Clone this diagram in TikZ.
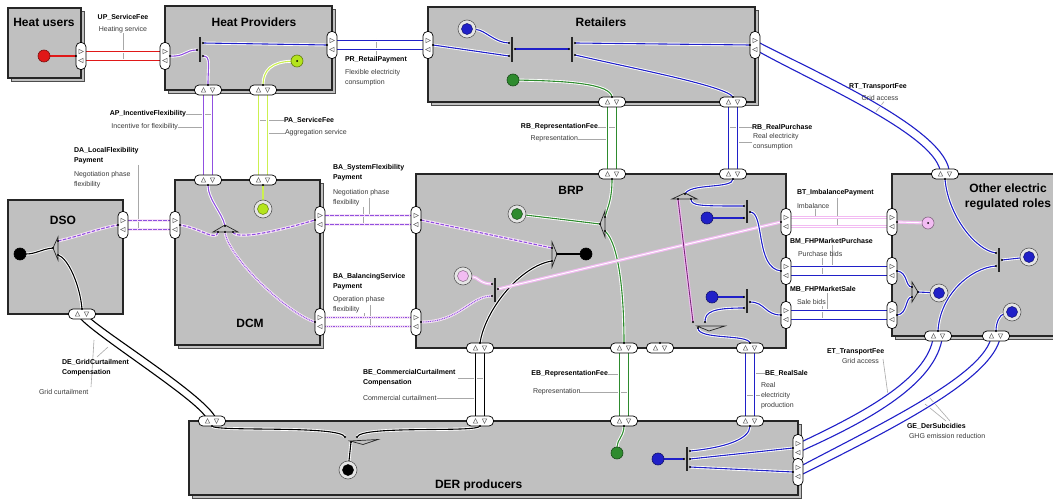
\documentclass[tikz,border=0pt]{standalone}
\usepackage{fontspec}
\setmainfont{Liberation Sans}
\usetikzlibrary{calc}
\pgfdeclarelayer{boxes}
\pgfdeclarelayer{flows}
\pgfsetlayers{boxes,flows,main}

\definecolor{boxgray}{HTML}{C0C0C0}
\definecolor{vred}{HTML}{E01818}
\definecolor{vblue}{HTML}{2020C8}
\definecolor{vpurple}{HTML}{9050E0}
\definecolor{vyellow}{HTML}{CCF050}
\definecolor{vyellowd}{HTML}{B4E41C}
\definecolor{vgreen}{HTML}{2E8B2E}
\definecolor{vpink}{HTML}{F2BCF2}
\definecolor{vplum}{HTML}{7A2A7A}
\definecolor{vhalo}{HTML}{F6E4F6}
\definecolor{leadgray}{HTML}{A8A8A8}
\definecolor{txtgray}{HTML}{3A3A3A}

\tikzset{
  every node/.style={inner sep=0pt, outer sep=0pt},
  actor/.style={draw=black!85, fill=boxgray, line width=1.2pt},
  stackbox/.style={draw=black!70, fill=boxgray, line width=0.8pt},
  vpill/.style={draw=black, fill=white, rounded corners=4.5pt, minimum width=10pt, minimum height=27pt, line width=0.7pt},
  hpill/.style={draw=black, fill=white, rounded corners=4.5pt, minimum width=27pt, minimum height=10pt, line width=0.7pt},
  tri/.style={draw=black!60, fill=white, line width=0.5pt},
  flow/.style={draw=#1, line width=1.1pt, preaction={draw=white, line width=2.9pt, solid}},
  dflow/.style={draw=#1, line width=1.1pt, dash pattern=on 3.5pt off 1.5pt, preaction={draw=vhalo, line width=2.9pt, solid}},
  oflow/.style={draw=#1, line width=1.1pt, dash pattern=on 0.9pt off 0.9pt, preaction={draw=vhalo, line width=2.9pt, solid}},
  pflow/.style={draw=vpink, line width=1.2pt, double=white, double distance=0.9pt},
  plumflow/.style={draw=vplum, line width=0.9pt, preaction={draw=vpink, line width=3pt}},
  title/.style={font=\fontsize{12}{15}\selectfont\bfseries},
  xname/.style={font=\fontsize{7}{10}\selectfont\bfseries, align=left},
  xdesc/.style={font=\fontsize{7}{10}\selectfont, text=txtgray, align=left},
  leader/.style={draw=leadgray, line width=0.6pt},
  andbar/.style={draw=black!85, line width=1.2pt},
  orshape/.style={draw=black!85, fill=boxgray, line width=0.7pt},
}

% value port on a left or right side: two transfers, upper (-a) and lower (-b)
\newcommand\VPort[3]{%
  \node[vpill] (#1) at (#2,#3) {};
  \path[tri] ({#2-2.2},{#3-6.7}) -- ({#2+2.4},{#3-4.5}) -- ({#2-2.2},{#3-2.3}) -- cycle;
  \path[tri] ({#2+2.2},{#3+2.3}) -- ({#2-2.4},{#3+4.5}) -- ({#2+2.2},{#3+6.7}) -- cycle;
  \coordinate (#1-a) at (#2,{#3-4.5});
  \coordinate (#1-b) at (#2,{#3+4.5});
}
% value port on a top or bottom side: two transfers, left (-a) and right (-b)
\newcommand\HPort[3]{%
  \node[hpill] (#1) at (#2,#3) {};
  \path[tri] ({#2-6.7},{#3+2.2}) -- ({#2-4.5},{#3-2.4}) -- ({#2-2.3},{#3+2.2}) -- cycle;
  \path[tri] ({#2+2.3},{#3-2.2}) -- ({#2+4.5},{#3+2.4}) -- ({#2+6.7},{#3-2.2}) -- cycle;
  \coordinate (#1-a) at ({#2-4.5},#3);
  \coordinate (#1-b) at ({#2+4.5},#3);
}
\newcommand\StartStim[4]{%
  \node[circle, minimum size=12pt, fill=#4, draw=#4!55!black, line width=0.6pt] (#1) at (#2,#3) {};}
\newcommand\EndStim[4]{%
  \node[circle, minimum size=18pt, fill=black!10, draw=black!65, line width=0.6pt] (#1) at (#2,#3) {};
  \node[circle, minimum size=11pt, fill=#4, draw=#4!55!black, line width=0.5pt] (#1-core) at (#2,#3) {};}

\begin{document}
\begin{tikzpicture}[x=1pt,y=-1pt]
\useasboundingbox (0,0) rectangle (1053,500);

% ---------------- actors ----------------
\begin{pgfonlayer}{boxes}
  \fill[white] (0,0) rectangle (1053,500);
  \node[stackbox, anchor=north west, minimum width=73pt, minimum height=70pt] (huS) at (11.5,11.5) {};
  \node[actor, anchor=north west, minimum width=73pt, minimum height=70pt] (hu) at (8,8) {};
  \node[stackbox, anchor=north west, minimum width=167pt, minimum height=84pt] (hpS) at (168.5,9.5) {};
  \node[actor, anchor=north west, minimum width=167pt, minimum height=84pt] (hp) at (165,6) {};
  \node[stackbox, anchor=north west, minimum width=327pt, minimum height=95pt] (reS) at (431.5,10.5) {};
  \node[actor, anchor=north west, minimum width=327pt, minimum height=95pt] (re) at (428,7) {};
  \node[actor, anchor=north west, minimum width=115pt, minimum height=114pt] (dso) at (8,200) {};
  \node[stackbox, anchor=north west, minimum width=145pt, minimum height=165pt] (dcmS) at (178.5,183.5) {};
  \node[actor, anchor=north west, minimum width=145pt, minimum height=165pt] (dcm) at (175,180) {};
  \node[actor, anchor=north west, minimum width=370pt, minimum height=174pt] (brp) at (416,174) {};
  \node[stackbox, anchor=north west, minimum width=175pt, minimum height=162pt] (otS) at (895.5,177.5) {};
  \node[actor, anchor=north west, minimum width=175pt, minimum height=162pt] (ot) at (892,174) {};
  \node[stackbox, anchor=north west, minimum width=609pt, minimum height=74pt] (derS) at (192.5,424.5) {};
  \node[actor, anchor=north west, minimum width=609pt, minimum height=74pt] (der) at (189,421) {};
\end{pgfonlayer}

\node[title] (huT) at (44,22) {Heat users};
\node[title] (hpT) at (254,22) {Heat Providers};
\node[title] (reT) at (601,22) {Retailers};
\node[title] (dsoT) at (63,220) {DSO};
\node[title] (dcmT) at (250,323) {DCM};
\node[title] (brpT) at (571,190) {BRP};
\node[title, anchor=north, align=center] (otT) at (1008,183.5) {Other electric\\regulated roles};
\node[title, anchor=west] (derT) at (435,485) {DER producers};

% ---------------- value ports ----------------
\VPort{HUr}{81}{56}
\VPort{HPl}{165}{56}
\VPort{HPr}{332}{45}
\VPort{REl}{428}{45}
\VPort{REr}{755}{45}
\VPort{DSOr}{123}{225}
\VPort{DCMl}{175}{225}
\VPort{DCMr1}{320}{220}
\VPort{DCMr2}{320}{322}
\VPort{BRPl1}{416}{220}
\VPort{BRPl2}{416}{322}
\VPort{BRPr1}{786}{222}
\VPort{BRPr2}{786}{271}
\VPort{BRPr3}{786}{315}
\VPort{OTl1}{892}{222}
\VPort{OTl2}{892}{271}
\VPort{OTl3}{892}{315}
\VPort{DERr1}{798}{448}
\VPort{DERr2}{798}{472}
\HPort{HPb1}{208}{90}
\HPort{HPb2}{263}{90}
\HPort{REb1}{612}{102}
\HPort{REb2}{733}{102}
\HPort{BRPt1}{612}{174}
\HPort{BRPt2}{733}{174}
\HPort{BRPb1}{480}{348}
\HPort{BRPb2}{624}{348}
\HPort{BRPb3}{660}{348}
\HPort{BRPb4}{750}{348}
\HPort{DCMt1}{208}{180}
\HPort{DCMt2}{263}{180}
\HPort{OTt}{945}{174}
\HPort{OTb1}{938}{336}
\HPort{OTb2}{996}{336}
\HPort{DSOb}{82}{314}
\HPort{DERt1}{212}{421}
\HPort{DERt2}{480}{421}
\HPort{DERt3}{624}{421}
\HPort{DERt4}{750}{421}

% ---------------- stimuli ----------------
\StartStim{hudot}{44}{56}{vred}
\StartStim{hpy}{297}{61}{vyellowd}
\EndStim{rebull}{467}{29}{vblue}
\StartStim{regreen}{513}{80}{vgreen}
\StartStim{dsodot}{20}{254}{black}
\EndStim{dcmbull}{263}{209}{vyellowd}
\EndStim{brpbull}{517}{214}{vgreen}
\StartStim{brpblack}{586}{254}{black}
\EndStim{brppink}{463}{276}{vpink}
\StartStim{brpblue1}{707}{218}{vblue}
\StartStim{brpblue2}{712}{297}{vblue}
\StartStim{otpink}{928}{223}{vpink}
\EndStim{otbull1}{939}{293}{vblue}
\EndStim{otbull2}{1029}{257}{vblue}
\EndStim{otbull3}{1012}{312}{vblue}
\EndStim{derbull}{348}{470}{black}
\StartStim{dergreen}{617}{453}{vgreen}
\StartStim{derblue}{658}{459}{vblue}
\fill[black] (hpy) circle (1pt);
\fill[black] (otpink) circle (1pt);

% ---------------- AND bars and OR elements ----------------
\draw[andbar] (200,37) -- (200,62);
\coordinate (hb-in) at (197,50); \coordinate (hb-o1) at (203,43); \coordinate (hb-o2) at (203,56);
\draw[andbar] (512,37) -- (512,62);
\coordinate (r1-i1) at (509,43); \coordinate (r1-i2) at (509,56); \coordinate (r1-o) at (515,49);
\draw[andbar] (572,37) -- (572,62);
\coordinate (r2-i) at (569,49); \coordinate (r2-o1) at (575,43); \coordinate (r2-o2) at (575,55);
\draw[orshape] (53,248) -- (58,237) -- (58,260) -- cycle;
\coordinate (dso-i) at (53,248); \coordinate (dso-o1) at (58,241); \coordinate (dso-o2) at (58,255);
\draw[orshape] (225,225) -- (238,232) -- (213,232) -- cycle;
\coordinate (dcm-i) at (225,226); \coordinate (dcm-o1) at (218,232); \coordinate (dcm-o2) at (225,232); \coordinate (dcm-o3) at (233,232);
\draw[orshape] (600,224) -- (605,211) -- (605,237) -- cycle;
\coordinate (or1-i) at (600,224); \coordinate (or1-o1) at (605,217); \coordinate (or1-o2) at (605,231);
\draw[orshape] (557,254) -- (552,242) -- (552,267) -- cycle;
\coordinate (or2-i1) at (552,248); \coordinate (or2-i2) at (552,261); \coordinate (or2-o) at (557,254);
\draw[andbar] (495,278) -- (495,302);
\coordinate (b3-i1) at (492,284); \coordinate (b3-i2) at (492,296); \coordinate (b3-o) at (498,289);
\draw[orshape] (685,193) -- (697,199) -- (672,199) -- cycle;
\coordinate (or3-i) at (685,194); \coordinate (or3-o1) at (678,199); \coordinate (or3-o2) at (691,199);
\draw[andbar] (747,200) -- (747,223);
\coordinate (b1-i1) at (744,206); \coordinate (b1-i2) at (744,218); \coordinate (b1-o) at (750,212);
\draw[andbar] (747,289) -- (747,313);
\coordinate (b2-i1) at (744,297); \coordinate (b2-i2) at (744,308); \coordinate (b2-o) at (750,302);
\draw[orshape] (697,326) -- (725,326) -- (709,331) -- cycle;
\coordinate (or4-i1) at (693,322); \coordinate (or4-i2) at (705,322); \coordinate (or4-o) at (698,328);
\draw[orshape] (918,292) -- (912,282) -- (912,302) -- cycle;
\coordinate (or5-i1) at (912,287); \coordinate (or5-i2) at (912,297); \coordinate (or5-o) at (918,292);
\draw[andbar] (999,248) -- (999,272);
\coordinate (ob-i1) at (996,253); \coordinate (ob-i2) at (996,266); \coordinate (ob-o) at (1002,260);
\draw[orshape] (350,441) -- (378,439.5) -- (363,444.5) -- cycle;
\coordinate (der-i1) at (345,437); \coordinate (der-i2) at (357,437); \coordinate (der-o) at (351,442);
\draw[andbar] (687,447) -- (687,471);
\coordinate (db-i) at (684,459); \coordinate (db-o1) at (690,451); \coordinate (db-o2) at (690,459); \coordinate (db-o3) at (690,467);

% ---------------- exchange labels ----------------
\node[xname] (upN) at (123,17) {UP\_ServiceFee};
\node[xdesc] (upD) at (123,30) {Heating service};
\node[xname, anchor=west] (prN) at (345,60) {PR\_RetailPayment};
\node[xdesc, anchor=north west] (prD) at (345,69.5) {Flexible electricity\\consumption};
\node[xname] (rtN) at (878,87) {RT\_TransportFee};
\node[xdesc] (rtD) at (880,98) {Grid access};
\node[xname, anchor=east] (apN) at (186,114) {AP\_IncentiveFlexibility};
\node[xdesc, anchor=east] (apD) at (178,127) {Incentive for flexibility};
\node[xname, anchor=west] (paN) at (284,120) {PA\_ServiceFee};
\node[xdesc, anchor=west] (paD) at (285,133) {Aggregation service};
\node[xname, anchor=north west] (daN) at (74,147.5) {DA\_LocalFlexibility\\Payment};
\node[xdesc, anchor=north west] (daD) at (74,171.5) {Negotiation phase\\flexibility};
\node[xname, anchor=north west] (bsN) at (333,164.5) {BA\_SystemFlexibility\\Payment};
\node[xdesc, anchor=north west] (bsD) at (333,189.5) {Negotiation phase\\flexibility};
\node[xname, anchor=north west] (bbN) at (333,273.5) {BA\_BalancingService\\Payment};
\node[xdesc, anchor=north west] (bbD) at (333,296.5) {Operation phase\\flexibility};
\node[xname, anchor=east] (rrN) at (598,127) {RB\_RepresentationFee};
\node[xdesc, anchor=east] (rrD) at (578,139) {Representation};
\node[xname, anchor=west] (rpN) at (752,127) {RB\_RealPurchase};
\node[xdesc, anchor=north west] (rpD) at (753,133.5) {Real electricity\\consumption};
\node[xname, anchor=west] (btN) at (797,193) {BT\_ImbalancePayment};
\node[xdesc, anchor=west] (btD) at (797,206) {Imbalance};
\node[xname, anchor=west] (bmN) at (790,241) {BM\_FHPMarketPurchase};
\node[xdesc, anchor=west] (bmD) at (798,254) {Purchase bids};
\node[xname, anchor=west] (mbN) at (790,289) {MB\_FHPMarketSale};
\node[xdesc, anchor=west] (mbD) at (797,302) {Sale bids};
\node[xname, anchor=north west] (bcN) at (363,369.5) {BE\_CommercialCurtailment\\Compensation};
\node[xdesc, anchor=west] (bcD) at (363,398) {Commercial curtailment};
\node[xname, anchor=east] (ebN) at (608,374) {EB\_RepresentationFee};
\node[xdesc, anchor=west] (ebD) at (533,392) {Representation};
\node[xname, anchor=west] (bsaN) at (765,373) {BE\_RealSale};
\node[xdesc, anchor=north west] (bsaD) at (761,382.5) {Real\\electricity\\production};
\node[xname, anchor=north west] (deN) at (62,359.5) {DE\_GridCurtailment\\Compensation};
\node[xdesc, anchor=west] (deD) at (39,392) {Grid curtailment};
\node[xname, anchor=west] (etN) at (827,352) {ET\_TransportFee};
\node[xdesc, anchor=west] (etD) at (842,361) {Grid access};
\node[xname, anchor=west] (geN) at (907,426) {GE\_DerSubcidies};
\node[xdesc, anchor=west] (geD) at (909,436) {GHG emission reduction};

\begin{pgfonlayer}{flows}
  % leader lines from labels to their exchanges
  \draw[leader] (upD.south) -- (123,62) coordinate (upL);
  \draw[leader] (376,39) coordinate (prLa) -- (376,55) coordinate (prLb);
  \draw[leader] (rtD.south) ++(4,1) coordinate (rtLa) -- (875,113) coordinate (rtLb);
  \draw[leader] (apN.east) -- (212.5,114) coordinate (apL1);
  \draw[leader] (apD.east) -- (203.5,127) coordinate (apL2);
  \draw[leader] (paN.west) -- (258.5,120) coordinate (paL1);
  \draw[leader] (paD.west) -- (267.5,133) coordinate (paL2);
  \draw[leader] (138,165) coordinate (daLa) -- (138,229) coordinate (daLb);
  \draw[leader] (363,207) coordinate (bsLa) -- (363,224.5) coordinate (bsLb);
  \draw[leader] (369,198) coordinate (bsLc) -- (369,215.5) coordinate (bsLd);
  \draw[leader] (370,305) coordinate (bbLa) -- (370,326.5) coordinate (bbLb);
  \draw[leader] (364,313) coordinate (bbLc) -- (364,317.5) coordinate (bbLd);
  \draw[leader] (rrN.east) -- (616.5,127) coordinate (rrL1);
  \draw[leader] (rrD.east) -- (607.5,139) coordinate (rrL2);
  \draw[leader] (rpN.west) -- (728.5,127) coordinate (rpL1);
  \draw[leader] (752,142) coordinate (rpLa) -- (737.5,142) coordinate (rpL2);
  \draw[leader] (815,209) coordinate (btLa) -- (815,217.5) coordinate (btLb);
  \draw[leader] (837,198) coordinate (btLc) -- (837,226.5) coordinate (btLd);
  \draw[leader] (822,258) coordinate (bmLa) -- (822,275.5) coordinate (bmLb);
  \draw[leader] (832,245) coordinate (bmLc) -- (832,266.5) coordinate (bmLd);
  \draw[leader] (822,306) coordinate (mbLa) -- (822,319.5) coordinate (mbLb);
  \draw[leader] (827,293) coordinate (mbLc) -- (827,310.5) coordinate (mbLd);
  \draw[leader] (458,378) coordinate (bcLa) -- (484.5,378) coordinate (bcLb);
  \draw[leader] (bcD.east) -- (475.5,398) coordinate (bcL2);
  \draw[leader] (ebN.east) -- (619.5,374) coordinate (ebL1);
  \draw[leader] (ebD.east) -- (628.5,392) coordinate (ebL2);
  \draw[leader] (bsaN.west) -- (754.5,373) coordinate (bsaL1);
  \draw[leader] (760,395) coordinate (bsaLa) -- (745.5,395) coordinate (bsaL2);
  \draw[leader] (91,387) coordinate (deLa) -- (94,340) coordinate (deLb);
  \draw[leader] (97,357) coordinate (deLc) -- (108,347) coordinate (deLd);
  \draw[leader] (883,359) coordinate (etLa) -- (888,395) coordinate (etLb);
  \draw[leader] (925,404) coordinate (geLa) -- (946,421) coordinate (geLb);
  \draw[leader] (929,397) coordinate (geLc) -- (950,421) coordinate (geLd);

  % internal paths: Heat users and Heat Providers
  \draw[flow=vred] (hudot) -- (HUr.west);
  \draw[flow=vpurple] (HPl.east) .. controls (185,57) and (185,50) .. (hb-in);
  \draw[flow=vblue] (hb-o1) -- (HPr.west);
  \draw[flow=vpurple] (hb-o2) .. controls (211,56) and (208,65) .. (HPb1.north);
  \draw[flow=vyellow] (hpy) .. controls (272,62) and (263,70) .. (HPb2.north);
  % Retailers
  \draw[flow=vblue] (rebull) .. controls (485,30) and (495,43) .. (r1-i1);
  \draw[flow=vblue] (REl.east) -- (r1-i2);
  \draw[flow=vblue] (r1-o) -- (r2-i);
  \draw[flow=vblue] (r2-o1) -- (REr.west);
  \draw[flow=vblue] (r2-o2) .. controls (640,70) and (725,86) .. (REb2.north);
  \draw[flow=vgreen] (regreen) .. controls (570,81) and (610,84) .. (REb1.north);
  % DSO
  \draw[flow=black] (dsodot) .. controls (36,254) and (42,249) .. (dso-i);
  \draw[dflow=vpurple] (dso-o1) .. controls (80,236) and (100,228) .. (DSOr.west);
  \draw[flow=black] (dso-o2) .. controls (68,258) and (80,285) .. (DSOb.north);
  % DCM
  \draw[flow=vpurple] (DCMt1.south) .. controls (208,200) and (222,212) .. (dcm-i);
  \draw[dflow=vpurple] (dcm-o1) .. controls (216,242) and (200,228) .. (DCMl.east);
  \draw[dflow=vpurple] (dcm-o3) .. controls (236,240) and (275,232) .. (DCMr1.west);
  \draw[oflow=vpurple] (dcm-o2) .. controls (228,258) and (290,315) .. (DCMr2.west);
  \draw[flow=vyellow] (DCMt2.south) -- (dcmbull);
  % BRP
  \draw[flow=vgreen] (brpbull) -- (or1-i);
  \draw[flow=vgreen] (BRPt1.south) .. controls (612,200) and (608,206) .. (or1-o1);
  \draw[flow=vgreen] (or1-o2) .. controls (620,245) and (624,300) .. (BRPb2.north);
  \draw[dflow=vpurple] (BRPl1.east) -- (or2-i1);
  \draw[flow=black] (BRPb1.north) .. controls (485,310) and (520,266) .. (or2-i2);
  \draw[flow=black] (or2-o) -- (brpblack);
  \draw[pflow] (brppink) .. controls (478,277) and (480,284) .. (b3-i1);
  \draw[oflow=vpurple] (BRPl2.east) .. controls (460,322) and (470,296) .. (b3-i2);
  \draw[pflow] (b3-o) -- (BRPr1.west);
  \draw[flow=vblue] (BRPt2.south) .. controls (733,189) and (690,183) .. (or3-i);
  \draw[plumflow] (or3-o1) -- (or4-i1);
  \draw[flow=vblue] (or3-o2) .. controls (691,206) and (700,206) .. (b1-i1);
  \draw[flow=vblue] (brpblue1) -- (b1-i2);
  \draw[flow=vblue] (b1-o) .. controls (765,212) and (755,268) .. (BRPr2.west);
  \draw[flow=vblue] (brpblue2) -- (b2-i1);
  \draw[flow=vblue] (b2-i2) .. controls (712,308) and (705,312) .. (or4-i2);
  \draw[flow=vblue] (b2-o) .. controls (765,302) and (765,315) .. (BRPr3.west);
  \draw[flow=vblue] (or4-o) .. controls (698,340) and (748,334) .. (BRPb4.north);
  % Other electric regulated roles
  \draw[pflow] (OTl1.east) -- (otpink);
  \draw[flow=vblue] (OTl2.east) .. controls (908,272) and (905,287) .. (or5-i1);
  \draw[flow=vblue] (OTl3.east) .. controls (908,314) and (905,297) .. (or5-i2);
  \draw[flow=vblue] (or5-o) -- (otbull1);
  \draw[flow=vblue] (OTt.south) .. controls (948,215) and (975,250) .. (ob-i1);
  \draw[flow=vblue] (OTb1.north) .. controls (940,295) and (970,268) .. (ob-i2);
  \draw[flow=vblue] (ob-o) -- (otbull2);
  \draw[flow=vblue] (otbull3) .. controls (1000,315) and (996,322) .. (OTb2.north);
  % DER producers
  \draw[flow=black] (DERt1.south) .. controls (215,432) and (340,425) .. (der-i1);
  \draw[flow=black] (DERt2.south) .. controls (478,433) and (362,425) .. (der-i2);
  \draw[flow=black] (der-o) -- (derbull);
  \draw[flow=vgreen] (DERt3.south) .. controls (624,436) and (617,440) .. (dergreen);
  \draw[flow=vblue] (derblue) -- (db-i);
  \draw[flow=vblue] (db-o1) .. controls (722,448) and (750,440) .. (DERt4.south);
  \draw[flow=vblue] (db-o2) -- (DERr1.west);
  \draw[flow=vblue] (db-o3) -- (DERr2.west);

  % value exchanges between actors
  \draw[flow=vred] (HUr-a) -- (HPl-a);
  \draw[flow=vred] (HUr-b) -- (HPl-b);
  \draw[flow=vblue] (HPr-a) -- (REl-a);
  \draw[flow=vblue] (HPr-b) -- (REl-b);
  \draw[flow=vblue] (REr-a) .. controls (815,72) and (949.5,130) .. (OTt-b);
  \draw[flow=vblue] (REr-b) .. controls (808,80) and (940.5,136) .. (OTt-a);
  \draw[flow=vpurple] (HPb1-a) -- (DCMt1-a);
  \draw[flow=vpurple] (HPb1-b) -- (DCMt1-b);
  \draw[flow=vyellow] (HPb2-a) -- (DCMt2-a);
  \draw[flow=vyellow] (HPb2-b) -- (DCMt2-b);
  \draw[dflow=vpurple] (DSOr-a) -- (DCMl-a);
  \draw[dflow=vpurple] (DSOr-b) -- (DCMl-b);
  \draw[dflow=vpurple] (DCMr1-a) -- (BRPl1-a);
  \draw[dflow=vpurple] (DCMr1-b) -- (BRPl1-b);
  \draw[oflow=vpurple] (DCMr2-a) -- (BRPl2-a);
  \draw[oflow=vpurple] (DCMr2-b) -- (BRPl2-b);
  \draw[flow=vgreen] (REb1-a) -- (BRPt1-a);
  \draw[flow=vgreen] (REb1-b) -- (BRPt1-b);
  \draw[flow=vblue] (REb2-a) -- (BRPt2-a);
  \draw[flow=vblue] (REb2-b) -- (BRPt2-b);
  \draw[pflow] (BRPr1-a) -- (OTl1-a);
  \draw[pflow] (BRPr1-b) -- (OTl1-b);
  \draw[flow=vblue] (BRPr2-a) -- (OTl2-a);
  \draw[flow=vblue] (BRPr2-b) -- (OTl2-b);
  \draw[flow=vblue] (BRPr3-a) -- (OTl3-a);
  \draw[flow=vblue] (BRPr3-b) -- (OTl3-b);
  \draw[flow=black] (BRPb1-a) -- (DERt2-a);
  \draw[flow=black] (BRPb1-b) -- (DERt2-b);
  \draw[flow=vgreen] (BRPb2-a) -- (DERt3-a);
  \draw[flow=vgreen] (BRPb2-b) -- (DERt3-b);
  \draw[flow=vblue] (BRPb4-a) -- (DERt4-a);
  \draw[flow=vblue] (BRPb4-b) -- (DERt4-b);
  \draw[flow=black] (DSOb-a) .. controls (78,326) and (207.5,405) .. (DERt1-a);
  \draw[flow=black] (DSOb-b) .. controls (87,322) and (216.5,401) .. (DERt1-b);
  \draw[flow=vblue] (DERr1-a) .. controls (858,415) and (928,380) .. (OTb1-a);
  \draw[flow=vblue] (DERr1-b) .. controls (864,423) and (937,385) .. (OTb1-b);
  \draw[flow=vblue] (DERr2-a) .. controls (878,425) and (985,375) .. (OTb2-a);
  \draw[flow=vblue] (DERr2-b) .. controls (884,433) and (994,380) .. (OTb2-b);
\end{pgfonlayer}

% connection dots
\foreach \c in {hb-in,hb-o1,hb-o2,r1-i1,r1-i2,r1-o,r2-i,r2-o1,r2-o2,
  dso-i,dso-o1,dso-o2,dcm-i,dcm-o1,dcm-o2,dcm-o3,or1-i,or1-o1,or1-o2,
  or2-i1,or2-i2,or2-o,b3-i1,b3-i2,b3-o,or3-i,or3-o1,or3-o2,b1-i1,b1-i2,b1-o,
  b2-i1,b2-i2,b2-o,or4-i1,or4-i2,or4-o,or5-i1,or5-i2,or5-o,ob-i1,ob-i2,ob-o,
  der-i1,der-i2,der-o,db-i,db-o1,db-o2,db-o3,
  HUr.west,HPl.east,HPr.west,HPb1.north,HPb2.north,REl.east,REr.west,REb1.north,REb2.north,
  DSOr.west,DSOb.north,DCMl.east,DCMt1.south,DCMt2.south,DCMr1.west,DCMr2.west,
  BRPl1.east,BRPl2.east,BRPt1.south,BRPt2.south,BRPr1.west,BRPr2.west,BRPr3.west,
  BRPb1.north,BRPb2.north,BRPb3.north,BRPb4.north,OTl1.east,OTl2.east,OTl3.east,OTt.south,
  OTb1.north,OTb2.north,DERt1.south,DERt2.south,DERt3.south,DERt4.south,DERr1.west,DERr2.west}
  \fill[black] (\c) circle (1.2pt);
\end{tikzpicture}
\end{document}
